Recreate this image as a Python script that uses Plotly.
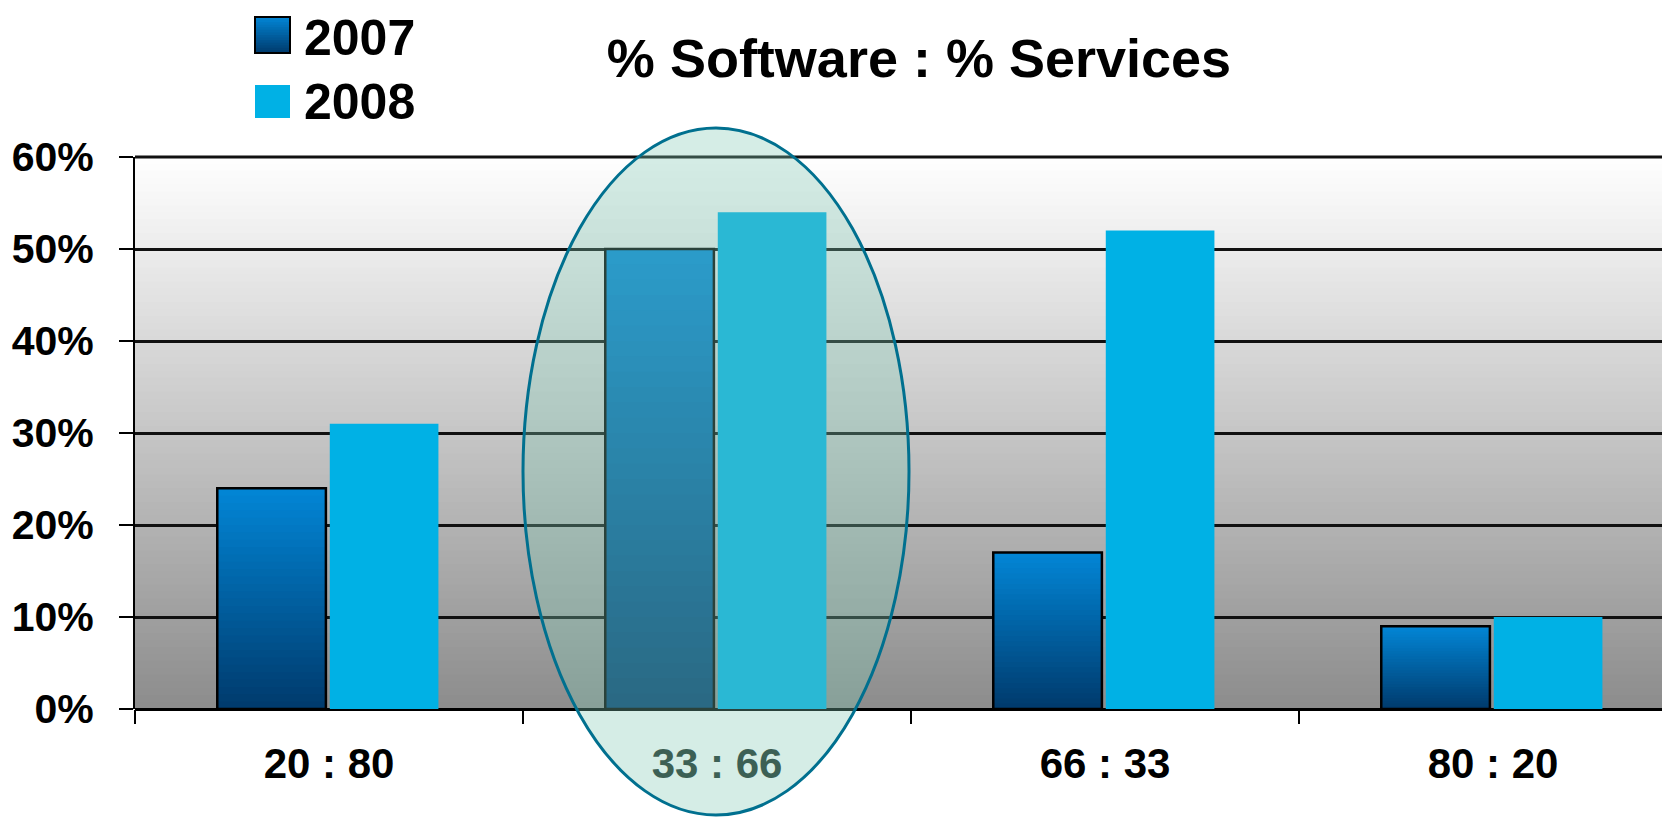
import plotly.graph_objects as go

# ---- data ----
categories = ["20 : 80", "33 : 66", "66 : 33", "80 : 20"]
series_names = ["2007", "2008"]
values_2007 = [24, 50, 17, 9]
values_2008 = [31, 54, 52, 10]
y_ticks = [0, 10, 20, 30, 40, 50, 60]
y_tick_labels = ["0%", "10%", "20%", "30%", "40%", "50%", "60%"]
title_text = "% Software : % Services"
highlight_index = 1

# ---- layout geometry (page pixels; the page body has an 8px margin) ----
OFF = 8
W, H = 1670 - OFF, 817 - OFF
PLOT_LEFT, PLOT_TOP, PLOT_BOTTOM = 135, 157, 709     # page coords
L = PLOT_LEFT - OFF
T = PLOT_TOP - OFF
B = (817 - PLOT_BOTTOM)
R = 0
PW, PH = W - L - R, PLOT_BOTTOM - PLOT_TOP
FONT = "Liberation Sans, Arial, sans-serif"

def px_x(p):
    return (p - PLOT_LEFT) / PW

def px_y(p):
    return (PLOT_BOTTOM - p) / PH

def lerp(c0, c1, t):
    return "rgb(%d,%d,%d)" % tuple(round(a + (b - a) * t) for a, b in zip(c0, c1))

BAR_W = 0.28
OFF_07 = -0.288
OFF_08 = 0.002
C07_BOTTOM = (0, 58, 108)
C07_TOP = (2, 134, 214)
C08 = "#00b1e5"

shapes = []

# plot background gradient (white at top -> gray at bottom)
NB = 80
for k in range(NB):
    shapes.append(dict(type="rect", xref="paper", yref="paper",
                       x0=0, x1=1, y0=k / NB, y1=min(1, (k + 1.6) / NB),
                       fillcolor=lerp((140, 140, 140), (255, 255, 255), (k + 0.5) / NB),
                       line=dict(width=0), layer="below"))

# gradient fill for 2007 bars (drawn below the outlined bar trace)
NG = 30
for i, v in enumerate(values_2007):
    for k in range(NG):
        shapes.append(dict(type="rect", xref="x", yref="y",
                           x0=i + OFF_07, x1=i + OFF_07 + BAR_W,
                           y0=v * k / NG, y1=v * min(1, (k + 1.6) / NG),
                           fillcolor=lerp(C07_BOTTOM, C07_TOP, (k + 0.5) / NG),
                           line=dict(width=0), layer="between"))

# top gridline (60%) and dotted white baseline
shapes.append(dict(type="line", xref="paper", yref="paper", x0=0, x1=1, y0=1, y1=1,
                   line=dict(color="#111111", width=3), layer="between"))
shapes.append(dict(type="line", xref="paper", yref="paper", x0=0, x1=1, y0=0, y1=0,
                   line=dict(color="white", width=2, dash="dot"), layer="between"))

# highlight ellipse
shapes.append(dict(type="circle", xref="paper", yref="paper",
                   x0=px_x(523), x1=px_x(909), y0=px_y(815), y1=px_y(128),
                   fillcolor="rgba(127,200,179,0.33)",
                   line=dict(color="#00708f", width=3), layer="above"))

# custom legend squares
sx0, sx1 = px_x(255), px_x(290)
NL = 14
ya, yb = px_y(53), px_y(17)
for k in range(NL):
    a = ya + (yb - ya) * k / NL
    b = ya + (yb - ya) * min(1, (k + 1.6) / NL)
    shapes.append(dict(type="rect", xref="paper", yref="paper", x0=sx0, x1=sx1,
                       y0=a, y1=b, fillcolor=lerp(C07_BOTTOM, C07_TOP, (k + 0.5) / NL),
                       line=dict(width=0), layer="above"))
shapes.append(dict(type="rect", xref="paper", yref="paper", x0=sx0, x1=sx1,
                   y0=ya, y1=yb, fillcolor="rgba(0,0,0,0)",
                   line=dict(color="black", width=2), layer="above"))
shapes.append(dict(type="rect", xref="paper", yref="paper", x0=sx0, x1=sx1,
                   y0=px_y(118), y1=px_y(85), fillcolor=C08,
                   line=dict(width=0), layer="above"))

annotations = [
    dict(text=series_names[0], xref="paper", yref="paper", x=px_x(302), y=px_y(38),
         xanchor="left", yanchor="middle", showarrow=False,
         font=dict(family=FONT, size=50, color="black", weight="bold")),
    dict(text=series_names[1], xref="paper", yref="paper", x=px_x(302), y=px_y(102),
         xanchor="left", yanchor="middle", showarrow=False,
         font=dict(family=FONT, size=50, color="black", weight="bold")),
]

tick_text = [
    ("<span style='color:#1c2e28'>%s</span>" % c) if i == highlight_index else c
    for i, c in enumerate(categories)
]

fig = go.Figure()
fig.add_trace(go.Bar(
    name=series_names[0], x=categories, y=values_2007,
    width=BAR_W, offset=OFF_07,
    marker=dict(color="rgba(0,0,0,0)", line=dict(color="black", width=2.5)),
))
fig.add_trace(go.Bar(
    name=series_names[1], x=categories, y=values_2008,
    width=BAR_W, offset=OFF_08,
    marker=dict(color=C08, line=dict(width=0)),
))

fig.update_layout(
    width=W, height=H,
    margin=dict(l=L, r=R, t=T, b=B, pad=0),
    paper_bgcolor="white", plot_bgcolor="white",
    showlegend=False,
    barmode="overlay",
    title=dict(text=title_text, x=(919 - OFF) / W, y=1 - (58 - OFF) / H,
               xanchor="center", yanchor="middle",
               font=dict(family=FONT, size=54, color="black", weight="bold")),
    xaxis=dict(
        type="category", range=[-0.5, -0.5 + PW / 388.0],
        tickmode="array", tickvals=categories, ticktext=tick_text,
        tickson="boundaries", ticks="outside", ticklen=14, tickwidth=2, tickcolor="black",
        showline=False, showgrid=False, zeroline=False,
        tickfont=dict(family=FONT, size=42, color="black", weight="bold"),
        ticklabelstandoff=26,
    ),
    yaxis=dict(
        range=[0, 60], tickmode="array", tickvals=y_ticks, ticktext=y_tick_labels,
        showline=True, linecolor="black", linewidth=2,
        ticks="outside", ticklen=14, tickwidth=2, tickcolor="black",
        showgrid=True, gridcolor="#111111", gridwidth=3,
        zeroline=True, zerolinecolor="black", zerolinewidth=3,
        tickfont=dict(family=FONT, size=41, color="black", weight="bold"),
        ticklabelstandoff=17,
    ),
    shapes=shapes,
    annotations=annotations,
)

fig.write_html("out.html")
